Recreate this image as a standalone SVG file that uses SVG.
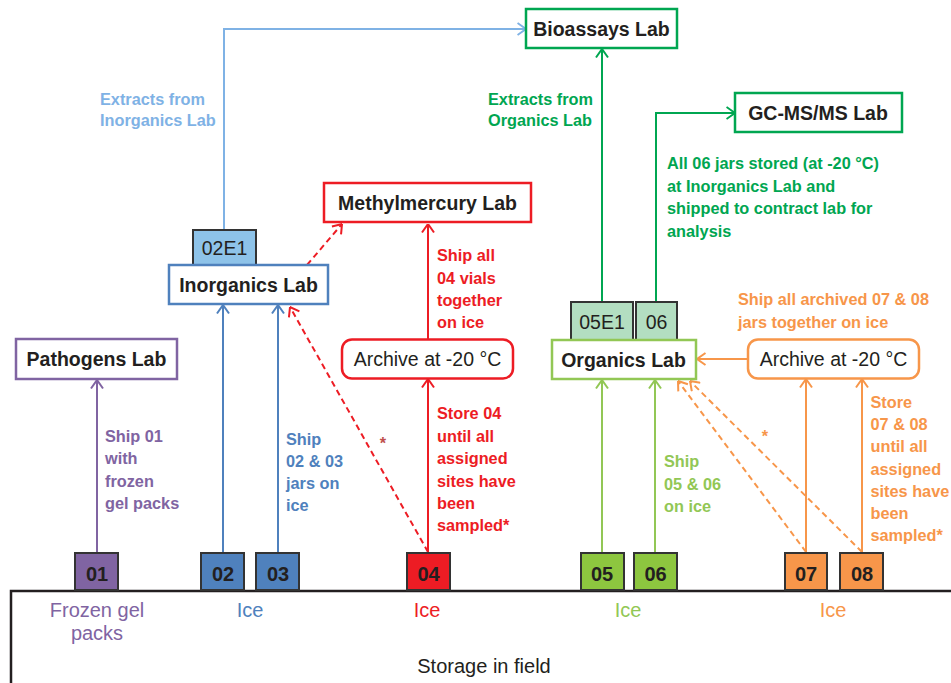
<svg xmlns="http://www.w3.org/2000/svg" width="951" height="683" viewBox="0 0 951 683">
<style>
text{font-family:"Liberation Sans",Arial,sans-serif}
.node{font-size:19.5px;font-weight:bold;fill:#231F20;text-anchor:middle}
.num{font-size:20px;font-weight:bold;fill:#231F20;text-anchor:middle}
.tag{font-size:19.5px;fill:#231F20;text-anchor:middle}
.ann{font-size:16.3px;font-weight:bold}
.ice{font-size:20px;text-anchor:middle}
.box{fill:#fff;stroke-width:2.5}
.sq{stroke:#333;stroke-width:2}
.ln{fill:none;stroke-width:2}
.dash{stroke-dasharray:6,4}
</style>
<defs>
<marker id="m-lb" viewBox="0 0 10 14" refX="9.5" refY="7" markerWidth="10" markerHeight="14" markerUnits="userSpaceOnUse" orient="auto"><path d="M1,1 L9.5,7 L1,13" fill="none" stroke="#7FB2E5" stroke-width="2"/></marker>
<marker id="m-dg" viewBox="0 0 10 14" refX="9.5" refY="7" markerWidth="10" markerHeight="14" markerUnits="userSpaceOnUse" orient="auto"><path d="M1,1 L9.5,7 L1,13" fill="none" stroke="#00A651" stroke-width="2"/></marker>
<marker id="m-lg" viewBox="0 0 10 14" refX="9.5" refY="7" markerWidth="10" markerHeight="14" markerUnits="userSpaceOnUse" orient="auto"><path d="M1,1 L9.5,7 L1,13" fill="none" stroke="#92C755" stroke-width="2"/></marker>
<marker id="m-r" viewBox="0 0 10 14" refX="9.5" refY="7" markerWidth="10" markerHeight="14" markerUnits="userSpaceOnUse" orient="auto"><path d="M1,1 L9.5,7 L1,13" fill="none" stroke="#ED1C24" stroke-width="2"/></marker>
<marker id="m-o" viewBox="0 0 10 14" refX="9.5" refY="7" markerWidth="10" markerHeight="14" markerUnits="userSpaceOnUse" orient="auto"><path d="M1,1 L9.5,7 L1,13" fill="none" stroke="#F7964A" stroke-width="2"/></marker>
<marker id="m-b" viewBox="0 0 10 14" refX="9.5" refY="7" markerWidth="10" markerHeight="14" markerUnits="userSpaceOnUse" orient="auto"><path d="M1,1 L9.5,7 L1,13" fill="none" stroke="#4F81BD" stroke-width="2"/></marker>
<marker id="m-p" viewBox="0 0 10 14" refX="9.5" refY="7" markerWidth="10" markerHeight="14" markerUnits="userSpaceOnUse" orient="auto"><path d="M1,1 L9.5,7 L1,13" fill="none" stroke="#8064A2" stroke-width="2"/></marker>
</defs>

<g id="connectors">
<path class="ln" stroke="#7FB2E5" d="M224,230 V29 H526" marker-end="url(#m-lb)"/>
<path class="ln" stroke="#00A651" d="M602,302 V49" marker-end="url(#m-dg)"/>
<path class="ln" stroke="#00A651" d="M656,302 V113 H735" marker-end="url(#m-dg)"/>
<path class="ln dash" stroke="#ED1C24" d="M307,265 L342,224" marker-end="url(#m-r)"/>
<path class="ln" stroke="#ED1C24" d="M428,340 V224" marker-end="url(#m-r)"/>
<path class="ln" stroke="#ED1C24" d="M428,552 V379" marker-end="url(#m-r)"/>
<path class="ln dash" stroke="#ED1C24" d="M428,552 L290,307" marker-end="url(#m-r)"/>
<path class="ln" stroke="#4F81BD" d="M223,552 V305" marker-end="url(#m-b)"/>
<path class="ln" stroke="#4F81BD" d="M278,552 V305" marker-end="url(#m-b)"/>
<path class="ln" stroke="#8064A2" d="M97,552 V380" marker-end="url(#m-p)"/>
<path class="ln" stroke="#92C755" d="M602,552 V380" marker-end="url(#m-lg)"/>
<path class="ln" stroke="#92C755" d="M655,552 V380" marker-end="url(#m-lg)"/>
<path class="ln" stroke="#F7964A" d="M748,359 H697" marker-end="url(#m-o)"/>
<path class="ln" stroke="#F7964A" d="M806,552 V379" marker-end="url(#m-o)"/>
<path class="ln" stroke="#F7964A" d="M862,552 V379" marker-end="url(#m-o)"/>
<path class="ln dash" stroke="#F7964A" d="M806,552 L678,381" marker-end="url(#m-o)"/>
<path class="ln dash" stroke="#F7964A" d="M862,552 L690,381" marker-end="url(#m-o)"/>
</g>

<g id="storage">
<path d="M11,683 V591 H951" fill="none" stroke="#231F20" stroke-width="2.5"/>
<text x="484" y="673" class="ice" fill="#231F20">Storage in field</text>
<text x="97" y="617" class="ice" fill="#8064A2">Frozen gel</text>
<text x="97" y="640" class="ice" fill="#8064A2">packs</text>
<text x="250" y="617" class="ice" fill="#4F81BD">Ice</text>
<text x="427" y="617" class="ice" fill="#ED1C24">Ice</text>
<text x="628" y="617" class="ice" fill="#92C755">Ice</text>
<text x="833" y="617" class="ice" fill="#F7964A">Ice</text>
</g>

<g id="bioassays"><rect x="526" y="9" width="151" height="39" class="box" stroke="#00A651"/><text x="601.5" y="35.5" class="node">Bioassays Lab</text></g>
<g id="gcms"><rect x="735" y="93" width="167" height="39" class="box" stroke="#00A651"/><text x="818" y="119.5" class="node">GC-MS/MS Lab</text></g>
<g id="methylmercury"><rect x="324" y="183" width="207" height="39" class="box" stroke="#ED1C24"/><text x="427.5" y="210" class="node">Methylmercury Lab</text></g>
<g id="e02e1"><rect x="193" y="230" width="63" height="35" class="sq" fill="#8EC3E9"/><text x="224.5" y="255" class="tag">02E1</text></g>
<g id="inorganics"><rect x="169" y="265" width="159" height="39" class="box" stroke="#4F81BD"/><text x="248.5" y="291.5" class="node">Inorganics Lab</text></g>
<g id="pathogens"><rect x="16" y="339" width="161" height="40" class="box" stroke="#8064A2"/><text x="96.5" y="366" class="node">Pathogens Lab</text></g>
<g id="archive04"><rect x="342" y="339.5" width="171" height="39" rx="10" class="box" stroke="#ED1C24" stroke-width="2"/><text x="427.5" y="366" class="tag">Archive at -20 °C</text></g>
<g id="e05e1"><rect x="571" y="302" width="62" height="38" class="sq" fill="#B3DEC1"/><text x="602" y="329" class="tag">05E1</text></g>
<g id="e06"><rect x="636" y="302" width="41" height="38" class="sq" fill="#B3DEC1"/><text x="656.5" y="329" class="tag">06</text></g>
<g id="organics"><rect x="552" y="340" width="144" height="39" class="box" stroke="#92C755"/><text x="623.5" y="366.5" class="node">Organics Lab</text></g>
<g id="archive0708"><rect x="748" y="339.5" width="171" height="39" rx="10" class="box" stroke="#F7964A" stroke-width="2"/><text x="833.5" y="366" class="tag">Archive at -20 °C</text></g>

<g id="s01"><rect x="75" y="553" width="43" height="37" class="sq" fill="#8064A2"/><text x="97" y="581" class="num">01</text></g>
<g id="s02"><rect x="201" y="553" width="43" height="37" class="sq" fill="#4F81BD"/><text x="223" y="581" class="num">02</text></g>
<g id="s03"><rect x="256" y="553" width="43" height="37" class="sq" fill="#4F81BD"/><text x="278" y="581" class="num">03</text></g>
<g id="s04"><rect x="407" y="553" width="43" height="37" class="sq" fill="#ED1C24"/><text x="428.5" y="581" class="num">04</text></g>
<g id="s05"><rect x="581" y="553" width="43" height="37" class="sq" fill="#8DC63F"/><text x="602" y="581" class="num">05</text></g>
<g id="s06"><rect x="634" y="553" width="43" height="37" class="sq" fill="#8DC63F"/><text x="655.5" y="581" class="num">06</text></g>
<g id="s07"><rect x="785" y="553" width="42" height="37" class="sq" fill="#F7964A"/><text x="806" y="581" class="num">07</text></g>
<g id="s08"><rect x="840" y="553" width="43" height="37" class="sq" fill="#F7964A"/><text x="862" y="581" class="num">08</text></g>

<g id="labels">
<text class="ann" fill="#7FB2E5" x="100" y="105">Extracts from</text>
<text class="ann" fill="#7FB2E5" x="100" y="126">Inorganics Lab</text>
<text class="ann" fill="#00A651" x="488" y="105">Extracts from</text>
<text class="ann" fill="#00A651" x="488" y="126">Organics Lab</text>
<text class="ann" fill="#00A651" x="667" y="169">All 06 jars stored (at -20 °C)</text>
<text class="ann" fill="#00A651" x="667" y="191.5">at Inorganics Lab and</text>
<text class="ann" fill="#00A651" x="667" y="214">shipped to contract lab for</text>
<text class="ann" fill="#00A651" x="667" y="236.5">analysis</text>
<text class="ann" fill="#F7964A" x="738" y="305">Ship all archived 07 &amp; 08</text>
<text class="ann" fill="#F7964A" x="738" y="327.5">jars together on ice</text>
<text class="ann" fill="#ED1C24" x="437" y="261">Ship all</text>
<text class="ann" fill="#ED1C24" x="437" y="283.5">04 vials</text>
<text class="ann" fill="#ED1C24" x="437" y="306">together</text>
<text class="ann" fill="#ED1C24" x="437" y="328">on ice</text>
<text class="ann" fill="#ED1C24" x="437" y="419">Store 04</text>
<text class="ann" fill="#ED1C24" x="437" y="441.5">until all</text>
<text class="ann" fill="#ED1C24" x="437" y="464">assigned</text>
<text class="ann" fill="#ED1C24" x="437" y="486.5">sites have</text>
<text class="ann" fill="#ED1C24" x="437" y="509">been</text>
<text class="ann" fill="#ED1C24" x="437" y="531">sampled*</text>
<text class="ann" fill="#C0504D" x="383" y="449" text-anchor="middle">*</text>
<text class="ann" fill="#8064A2" x="105" y="441.5">Ship 01</text>
<text class="ann" fill="#8064A2" x="105" y="464">with</text>
<text class="ann" fill="#8064A2" x="105" y="486.5">frozen</text>
<text class="ann" fill="#8064A2" x="105" y="509">gel packs</text>
<text class="ann" fill="#4F81BD" x="286" y="444.5">Ship</text>
<text class="ann" fill="#4F81BD" x="286" y="466.5">02 &amp; 03</text>
<text class="ann" fill="#4F81BD" x="286" y="489">jars on</text>
<text class="ann" fill="#4F81BD" x="286" y="511">ice</text>
<text class="ann" fill="#92C755" x="664" y="467">Ship</text>
<text class="ann" fill="#92C755" x="664" y="489.5">05 &amp; 06</text>
<text class="ann" fill="#92C755" x="664" y="512">on ice</text>
<text class="ann" fill="#F7964A" x="870.5" y="407.5">Store</text>
<text class="ann" fill="#F7964A" x="870.5" y="430">07 &amp; 08</text>
<text class="ann" fill="#F7964A" x="870.5" y="452">until all</text>
<text class="ann" fill="#F7964A" x="870.5" y="474.5">assigned</text>
<text class="ann" fill="#F7964A" x="870.5" y="496.5">sites have</text>
<text class="ann" fill="#F7964A" x="870.5" y="519">been</text>
<text class="ann" fill="#F7964A" x="870.5" y="541">sampled*</text>
<text class="ann" fill="#F7964A" x="765" y="442" text-anchor="middle">*</text>
</g>
</svg>
